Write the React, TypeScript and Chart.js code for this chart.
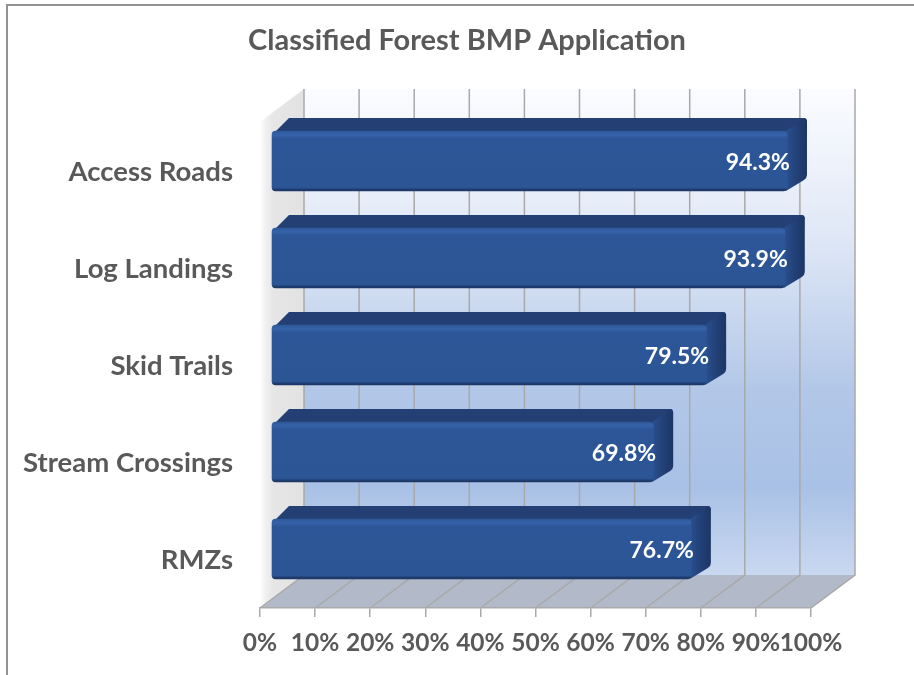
import React, { useEffect, useRef } from "react";
import { Chart, registerables } from "chart.js";

Chart.register(...registerables);

const categories = ["Access Roads", "Log Landings", "Skid Trails", "Stream Crossings", "RMZs"];
const applicationPercent = [94.3, 93.9, 79.5, 69.8, 76.7];
const axisTicks = [0, 10, 20, 30, 40, 50, 60, 70, 80, 90, 100];

const FONT = "Lato, Carlito, 'Open Sans', sans-serif";
const TEXT = "#595959";
const GRID = "#a9a9a9";
const WALL_DX = 44;
const WALL_DY = 33;
const WALL_TOP = 89;
const BAR_DX = 20;
const BAR_DY = 13;

const scene = {
  id: "scene",
  beforeDraw(chart: any) {
    const { ctx, chartArea, scales } = chart;
    const x = scales.x;
    const left = x.getPixelForValue(0);
    const right = x.getPixelForValue(100);
    const bottom = chartArea.bottom;
    ctx.save();
    ctx.fillStyle = "#fff";
    ctx.fillRect(0, 0, chart.width, chart.height);

    ctx.strokeStyle = "#929292";
    ctx.lineWidth = 2;
    ctx.beginPath();
    ctx.moveTo(7, chart.height);
    ctx.lineTo(7, 5);
    ctx.lineTo(chart.width, 5);
    ctx.stroke();

    const wallBottom = bottom - WALL_DY;
    const wall = ctx.createLinearGradient(0, WALL_TOP, 0, wallBottom);
    wall.addColorStop(0, "#fbfcff");
    wall.addColorStop(0.3, "#e0e8f6");
    wall.addColorStop(0.62, "#b2c7e8");
    wall.addColorStop(0.82, "#a9c1e6");
    wall.addColorStop(1, "#c9d8f0");
    ctx.fillStyle = wall;
    ctx.fillRect(left + WALL_DX, WALL_TOP, right - left, wallBottom - WALL_TOP);

    const side = ctx.createLinearGradient(left, 0, left + WALL_DX, 0);
    side.addColorStop(0, "#ffffff");
    side.addColorStop(0.12, "#f1f1f1");
    side.addColorStop(0.3, "#e6e6e6");
    side.addColorStop(1, "#e2e2e2");
    ctx.fillStyle = side;
    ctx.beginPath();
    ctx.moveTo(left, bottom);
    ctx.lineTo(left + WALL_DX, wallBottom);
    ctx.lineTo(left + WALL_DX, WALL_TOP);
    ctx.lineTo(left, WALL_TOP + WALL_DY);
    ctx.closePath();
    ctx.fill();

    ctx.fillStyle = "#b2b9c9";
    ctx.beginPath();
    ctx.moveTo(left, bottom);
    ctx.lineTo(right, bottom);
    ctx.lineTo(right + WALL_DX, wallBottom);
    ctx.lineTo(left + WALL_DX, wallBottom);
    ctx.closePath();
    ctx.fill();

    ctx.strokeStyle = GRID;
    ctx.lineWidth = 1.5;
    ctx.beginPath();
    axisTicks.forEach((t) => {
      const px = x.getPixelForValue(t);
      ctx.moveTo(px, bottom);
      ctx.lineTo(px + WALL_DX, wallBottom);
      ctx.lineTo(px + WALL_DX, WALL_TOP);
    });
    ctx.stroke();
    ctx.restore();
  },
  beforeDatasetsDraw(chart: any) {
    const { ctx } = chart;
    ctx.save();
    chart.getDatasetMeta(0).data.forEach((bar: any) => {
      const l = bar.base;
      const r = bar.x;
      const t = bar.y - bar.height / 2;
      const b = bar.y + bar.height / 2;
      ctx.fillStyle = "#233f74";
      ctx.beginPath();
      ctx.moveTo(l + 1, t + 3);
      ctx.lineTo(l + 17, t - BAR_DY);
      ctx.lineTo(r + BAR_DX - 4, t - BAR_DY);
      ctx.quadraticCurveTo(r + BAR_DX, t - BAR_DY, r + BAR_DX, t - BAR_DY + 4);
      ctx.lineTo(r, t + 3);
      ctx.closePath();
      ctx.fill();

      const g = ctx.createLinearGradient(r, 0, r + BAR_DX, 0);
      g.addColorStop(0, "#2a4f8f");
      g.addColorStop(0.35, "#24447d");
      g.addColorStop(1, "#1c3665");
      ctx.fillStyle = g;
      ctx.beginPath();
      ctx.moveTo(r - 1, t);
      ctx.lineTo(r + BAR_DX - 3, t - BAR_DY);
      ctx.quadraticCurveTo(r + BAR_DX, t - BAR_DY, r + BAR_DX, t - BAR_DY + 4);
      ctx.lineTo(r + BAR_DX, b - BAR_DY - 3);
      ctx.quadraticCurveTo(r + BAR_DX, b - BAR_DY, r + BAR_DX - 3, b - BAR_DY + 2);
      ctx.lineTo(r - 1, b);
      ctx.closePath();
      ctx.fill();
    });
    ctx.restore();
  },
  afterDatasetsDraw(chart: any) {
    const { ctx } = chart;
    ctx.save();
    ctx.font = `bold 23px ${FONT}`;
    ctx.fillStyle = "#ffffff";
    ctx.textAlign = "right";
    ctx.textBaseline = "middle";
    chart.getDatasetMeta(0).data.forEach((bar: any, i: number) => {
      ctx.fillText(`${applicationPercent[i].toFixed(1)}%`, bar.x + 3, bar.y + 2);
    });
    ctx.restore();
  },
};

export default function App() {
  const ref = useRef<HTMLCanvasElement>(null);
  useEffect(() => {
    document.body.style.margin = "0";
    const chart = new Chart(ref.current as HTMLCanvasElement, {
      type: "bar",
      data: {
        labels: categories,
        datasets: [
          {
            data: applicationPercent.map((v, i) => ({ x: v, y: i })),
            xAxisID: "xBar",
            yAxisID: "yBar",
            barThickness: 60,
            borderRadius: 4,
            borderSkipped: false,
            clip: false,
            backgroundColor: (c: any) => {
              const y = c.chart.scales.yBar?.getPixelForValue(c.dataIndex);
              if (!Number.isFinite(y)) return "#2c5596";
              const g = c.chart.ctx.createLinearGradient(0, y - 30, 0, y + 30);
              g.addColorStop(0, "#2e5899");
              g.addColorStop(0.06, "#3562aa");
              g.addColorStop(0.13, "#2d5698");
              g.addColorStop(0.94, "#2c5596");
              g.addColorStop(0.975, "#1f3c6e");
              g.addColorStop(1, "#1c3665");
              return g;
            },
          },
        ],
      } as any,
      options: {
        indexAxis: "y",
        animation: false,
        responsive: false,
        layout: { padding: { left: 20, right: 0, top: 0, bottom: 0 } },
        plugins: {
          legend: { display: false },
          tooltip: { enabled: false },
          title: {
            display: true,
            text: "Classified Forest BMP Application",
            color: TEXT,
            font: { family: FONT, size: 29, weight: "bold" },
            padding: { top: 23.5, bottom: 64.7 },
          },
        },
        scales: {
          x: {
            type: "linear",
            position: "bottom",
            min: 0,
            max: 100,
            afterFit: (s: any) => {
              s.height = 67;
            },
            afterBuildTicks: (s: any) => {
              s.ticks = axisTicks.map((value) => ({ value }));
            },
            grid: { display: true, drawOnChartArea: false, drawTicks: true, tickLength: 9, color: GRID, lineWidth: 1.5 },
            border: { display: true, color: GRID, width: 1.5 },
            ticks: {
              autoSkip: false,
              maxRotation: 0,
              padding: 11,
              color: TEXT,
              font: { family: FONT, size: 24.5, weight: "bold" },
              callback: (v: any) => `${v}%`,
            },
          },
          y: {
            type: "category",
            position: "left",
            offset: true,
            afterFit: (s: any) => {
              s.width = 240;
            },
            grid: { display: false, drawTicks: false },
            border: { display: false },
            ticks: {
              padding: 27,
              labelOffset: 1,
              color: TEXT,
              font: { family: FONT, size: 27.5, weight: "bold" },
            },
          },
          yGutter: {
            type: "linear",
            position: "right",
            offset: false,
            afterFit: (s: any) => {
              s.width = 103;
            },
            grid: { display: false, drawTicks: false },
            border: { display: false },
            ticks: { display: false },
          },
          xBar: { type: "linear", display: false, min: -2.2, max: 98.7, axis: "x", offset: false },
          yBar: { type: "linear", display: false, reverse: true, min: -0.392, max: 4.608, axis: "y", offset: false },
        },
      } as any,
      plugins: [scene],
    });
    return () => chart.destroy();
  }, []);
  return <canvas ref={ref} width={914} height={675} style={{ display: "block" }} />;
}
